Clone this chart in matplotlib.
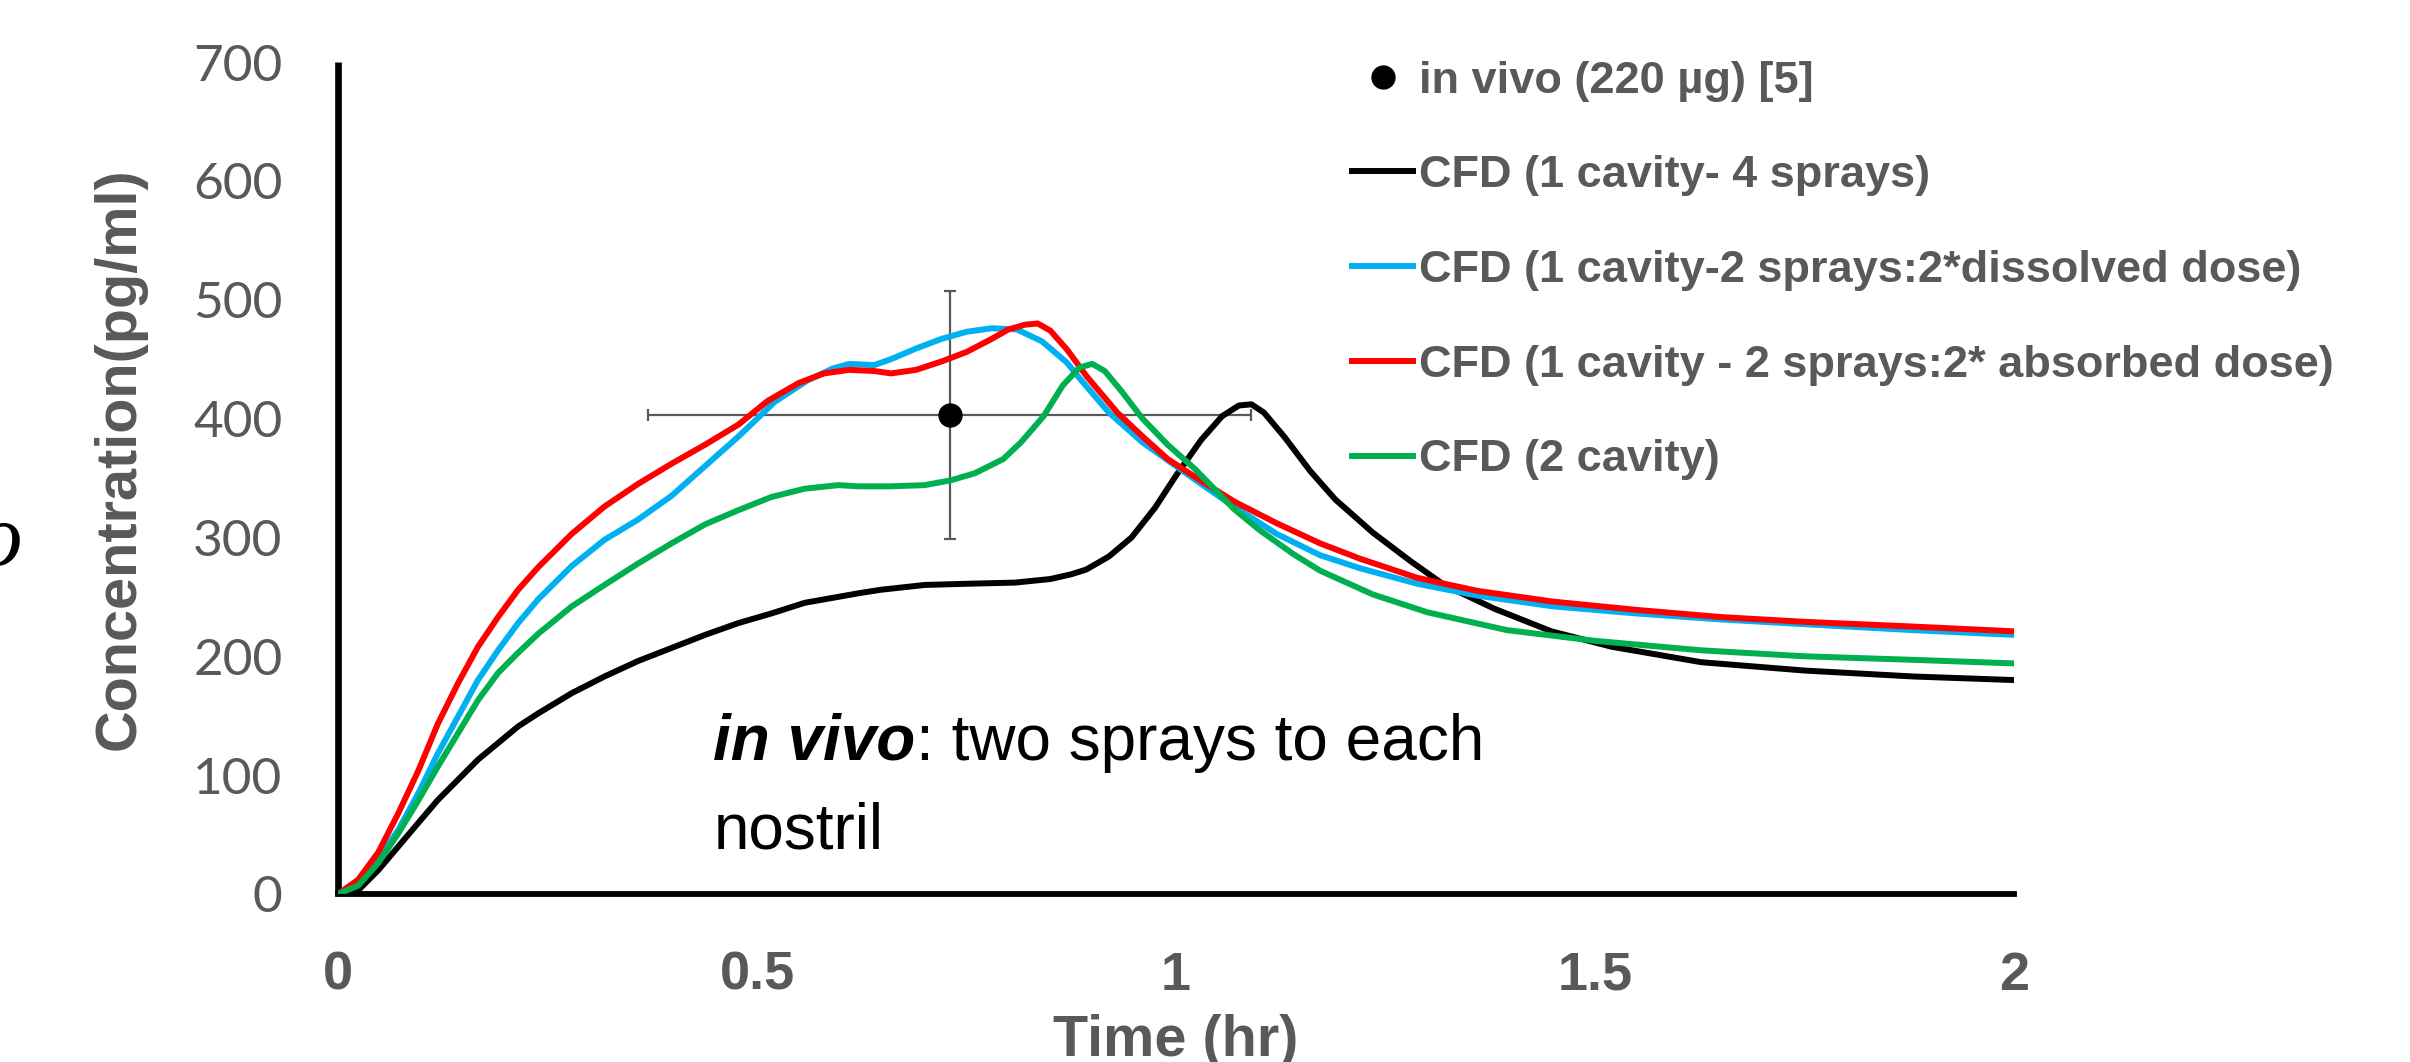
import matplotlib
matplotlib.use('Agg')
import matplotlib.pyplot as plt
from matplotlib.lines import Line2D
from matplotlib import font_manager as fm


def has_font(name):
    try:
        fm.findfont(fm.FontProperties(family=name), fallback_to_default=False)
        return True
    except Exception:
        return False


SANS = 'Liberation Sans' if has_font('Liberation Sans') else 'DejaVu Sans'
TICKF = 'Lato' if has_font('Lato') else 'DejaVu Sans'
GRAY = '#595959'

# ---------------- data ----------------
t_black = [0, 0.024, 0.048, 0.072, 0.096, 0.119, 0.143, 0.167, 0.191, 0.215, 0.239, 0.279, 0.318,
           0.358, 0.398, 0.438, 0.478, 0.517, 0.557, 0.597, 0.621, 0.648, 0.70, 0.75, 0.808, 0.85,
           0.875, 0.893, 0.92, 0.947, 0.975, 1.0, 1.03, 1.055, 1.075, 1.09, 1.105, 1.13, 1.16,
           1.19, 1.235, 1.28, 1.32, 1.38, 1.448, 1.52, 1.627, 1.75, 1.88, 2.0]
c_black = [0, 3, 20, 40, 60, 79, 96, 113, 127, 141, 152, 169, 183,
           196, 207, 218, 228, 236, 245, 250, 253, 256, 260, 261, 262, 265,
           269, 273, 284, 300, 325, 352, 382, 402, 411, 412, 405, 384, 356,
           332, 304, 280, 260, 240, 221, 208, 195, 188, 183, 180]

t_blue = [0, 0.024, 0.048, 0.072, 0.096, 0.119, 0.143, 0.167, 0.191, 0.215, 0.239, 0.279, 0.318,
          0.358, 0.398, 0.438, 0.478, 0.521, 0.56, 0.59, 0.61, 0.64, 0.66, 0.69, 0.72, 0.75, 0.78,
          0.81, 0.84, 0.87, 0.886, 0.92, 0.96, 1.0, 1.03, 1.069, 1.12, 1.172, 1.22, 1.288, 1.36,
          1.45, 1.55, 1.65, 1.75, 1.88, 2.0]
c_blue = [0, 8, 29, 54, 85, 118, 149, 180, 205, 228, 248, 276, 298,
          315, 335, 360, 385, 414, 432, 442, 446, 445, 450, 459, 467, 473, 476,
          475, 465, 447, 433, 405, 380, 360, 345, 326, 303, 285, 274, 261, 251,
          242, 236, 231, 227, 222, 218]

t_red = [0, 0.024, 0.048, 0.072, 0.096, 0.119, 0.143, 0.167, 0.191, 0.215, 0.239, 0.279, 0.318,
         0.358, 0.398, 0.438, 0.478, 0.513, 0.55, 0.58, 0.61, 0.64, 0.66, 0.69, 0.72, 0.75, 0.78,
         0.80, 0.82, 0.835, 0.85, 0.87, 0.894, 0.93, 0.96, 0.99, 1.029, 1.07, 1.12, 1.172, 1.22,
         1.288, 1.36, 1.45, 1.55, 1.65, 1.75, 1.88, 2.0]
c_red = [0, 12, 35, 68, 104, 143, 177, 208, 233, 256, 275, 303, 326,
         345, 362, 378, 395, 415, 430, 438, 441, 440, 438, 441, 448, 456, 467,
         475, 479, 480, 474, 458, 435, 405, 385, 366, 348, 330, 312, 295, 282,
         266, 255, 246, 239, 233, 229, 225, 221]

t_green = [0, 0.024, 0.048, 0.072, 0.096, 0.119, 0.143, 0.167, 0.191, 0.215, 0.239, 0.279, 0.318,
           0.358, 0.398, 0.438, 0.478, 0.517, 0.557, 0.597, 0.621, 0.66, 0.70, 0.731, 0.76, 0.794,
           0.815, 0.842, 0.865, 0.885, 0.90, 0.915, 0.935, 0.96, 0.99, 1.022, 1.069, 1.10, 1.14,
           1.172, 1.235, 1.30, 1.395, 1.50, 1.627, 1.75, 1.88, 2.0]
c_green = [0, 7, 26, 51, 79, 107, 135, 163, 186, 203, 219, 242, 260,
           278, 295, 311, 323, 334, 341, 344, 343, 343, 344, 348, 354, 366,
           380, 402, 428, 443, 446, 440, 423, 400, 378, 358, 324, 306, 286,
           272, 252, 237, 222, 213, 205, 200, 197, 194]

vivo_t = [0.73]
vivo_c = [403]
vivo_terr = [0.36]
vivo_cerr = [104]

labels = ['in vivo (220 \u00b5g) [5]',
          'CFD (1 cavity- 4 sprays)',
          'CFD (1 cavity-2 sprays:2*dissolved dose)',
          'CFD (1 cavity - 2 sprays:2* absorbed dose)',
          'CFD (2 cavity)']
colors = ['#000000', '#00B0F0', '#FF0000', '#00B050']
x_ticks = [0, 0.5, 1, 1.5, 2]
x_ticklabels = ['0', '0.5', '1', '1.5', '2']
y_ticks = [0, 100, 200, 300, 400, 500, 600, 700]

# ---------------- figure ----------------
fig = plt.figure(figsize=(24.10, 10.62), dpi=100)
ax = fig.add_axes([338 / 2410, 168 / 1062, 1676 / 2410, 832 / 1062])

series = [(t_black, c_black), (t_blue, c_blue), (t_red, c_red), (t_green, c_green)]
for (tt, cc), col in zip(series, colors):
    ax.plot(tt, cc, color=col, lw=4.3, solid_capstyle='round', solid_joinstyle='round', zorder=3)

ax.errorbar(vivo_t, vivo_c, xerr=vivo_terr, yerr=vivo_cerr, fmt='none', ecolor=GRAY,
            elinewidth=1.6, capsize=4.5, capthick=1.6, zorder=2)
ax.plot(vivo_t, vivo_c, 'o', color='black', markersize=16.5, zorder=4)

ax.set_xlim(0, 2)
ax.set_ylim(0, 700)
for s in ['top', 'right']:
    ax.spines[s].set_visible(False)
ax.spines['left'].set_linewidth(4.8)
ax.spines['bottom'].set_linewidth(4.2)
ax.spines['left'].set_capstyle('butt')

ax.set_xticks(x_ticks)
ax.set_xticklabels(x_ticklabels, fontfamily=SANS, fontweight='bold', fontsize=39, color=GRAY)
ax.set_yticks(y_ticks)
ax.set_yticklabels([str(v) for v in y_ticks], fontfamily=TICKF, fontsize=37, color=GRAY)
ax.tick_params(axis='x', length=0, pad=41)
ax.tick_params(axis='y', length=0, pad=40)

ax.set_xlabel('Time (hr)', fontfamily=SANS, fontweight='bold', fontsize=41.5, color=GRAY, va='top')
ax.xaxis.set_label_coords(0.5, -0.144)
ax.set_ylabel('Concentration(pg/ml)', fontfamily=SANS, fontweight='bold', fontsize=41.5,
              color=GRAY, va='center')
ax.yaxis.set_label_coords(-0.130, 0.523)

# legend
handles = [Line2D([], [], marker='o', ls='none', color='black', markersize=16.5)]
handles += [Line2D([], [], color=c, lw=4.3) for c in colors]
leg = ax.legend(handles, labels, loc='upper left', bbox_to_anchor=(1352 / 2410, 1 - 60.5 / 1062),
                bbox_transform=fig.transFigure, frameon=False, borderpad=0, borderaxespad=0,
                handlelength=1.36, handletextpad=0.13, labelspacing=1.19,
                prop={'family': SANS, 'weight': 'bold', 'size': 32.5}, labelcolor=GRAY)

# annotation
t1 = ax.text(0.448, 112.8, 'in vivo', fontfamily=SANS, fontweight='bold', fontstyle='italic',
             fontsize=46, color='black', ha='left', va='baseline')
ax.annotate(': two sprays to each', xy=(1, 0), xycoords=t1, fontfamily=SANS,
            fontsize=46, color='black', ha='left', va='bottom')
ax.text(0.448, 38.7, 'nostril', fontfamily=SANS, fontsize=46, color='black',
        ha='left', va='baseline')

# cut-off glyph at the left edge
fig.text(0.0, 1 - 565 / 1062, 'o', fontfamily='Liberation Serif', fontstyle='italic',
         fontsize=64, color='black', ha='center', va='baseline')

fig.savefig('out.png', dpi=100)
